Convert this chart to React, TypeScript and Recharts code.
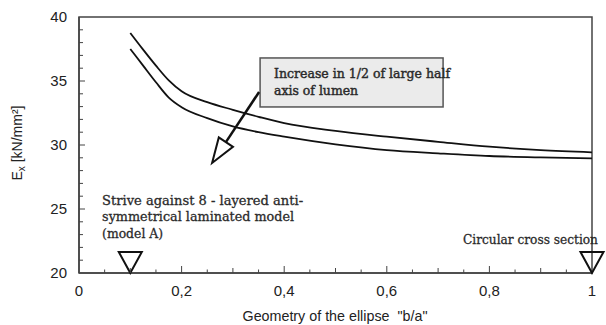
import React from 'react';
import { LineChart, Line, XAxis, YAxis, ReferenceArea, ReferenceDot } from 'recharts';

// b/a ratio of the ellipse
const ratios = [0.1, 0.125, 0.15, 0.175, 0.2, 0.25, 0.3, 0.35, 0.4, 0.5, 0.6, 0.7, 0.8, 0.9, 1.0];
// E_x [kN/mm²]
const upperEx = [38.75, 37.45, 36.2, 35.05, 34.2, 33.35, 32.75, 32.2, 31.7, 31.1, 30.65, 30.25, 29.87, 29.6, 29.43];
const lowerEx = [37.5, 36.2, 34.9, 33.7, 32.95, 32.1, 31.45, 31.0, 30.65, 30.05, 29.6, 29.35, 29.14, 29.03, 28.96];

const xTicks = [0, 0.05, 0.1, 0.15, 0.2, 0.25, 0.3, 0.35, 0.4, 0.45, 0.5, 0.55, 0.6, 0.65, 0.7, 0.75, 0.8, 0.85, 0.9, 0.95, 1];
const xTickLabels: Record<string, string> = { '0': '0', '0.2': '0,2', '0.4': '0,4', '0.6': '0,6', '0.8': '0,8', '1': '1' };
const yTicks = [20, 21, 22, 23, 24, 25, 26, 27, 28, 29, 30, 31, 32, 33, 34, 35, 36, 37, 38, 39, 40];
const yTickLabels = [20, 25, 30, 35, 40];

const noteModelA = ['Strive against 8 - layered anti-', 'symmetrical laminated model', '(model A)'];
const noteModelAWidths = [201, 192, 61];
const noteCircular = 'Circular cross section';
const noteBox = ['Increase in 1/2 of large half', 'axis of lumen'];
const noteBoxWidths = [176, 84];
const markerRatios = [0.1, 1];

const data = ratios.map((r, i) => ({ ratio: r, upper: upperEx[i], lower: lowerEx[i] }));

const AXIS = '#444';
const SANS = '"Liberation Sans", Arial, sans-serif';
const SERIF = '"DejaVu Serif", serif';

const XTick = (props: any) => {
  const { x, y, payload } = props;
  const v = payload.value;
  const key = String(Math.round(v * 100) / 100);
  const label = xTickLabels[key];
  const isTenth = Math.abs(v * 10 - Math.round(v * 10)) < 1e-6;
  const len = label !== undefined ? 7 : isTenth ? 5 : 3.5;
  return (
    <g>
      {v > 0 && v < 1 && <line x1={x} x2={x} y1={y} y2={y - len} stroke={AXIS} strokeWidth={1} />}
      {label !== undefined && (
        <text x={x} y={y + 23} textAnchor="middle" fontFamily={SANS} fontSize={15} fill="#222">
          {label}
        </text>
      )}
    </g>
  );
};

const YTick = (props: any) => {
  const { x, y, payload } = props;
  const v = payload.value;
  const isLabel = yTickLabels.includes(v);
  const len = isLabel ? 6 : 4;
  return (
    <g>
      {v > 20 && v < 40 && <line x1={x} x2={x + len} y1={y} y2={y} stroke={AXIS} strokeWidth={1} />}
      {isLabel && (
        <text x={x - 12} y={y + 5} textAnchor="end" fontFamily={SANS} fontSize={15} fill="#222">
          {v}
        </text>
      )}
    </g>
  );
};

const Marker = (props: any) => {
  const { cx, cy } = props;
  return <path d={`M${cx},${cy} L${cx - 11.5},${cy - 21} L${cx + 11.5},${cy - 21} Z`} fill="none" stroke="#111" strokeWidth={2} />;
};

const serifProps = {
  fontFamily: SERIF,
  fontSize: 13,
  fill: '#2a2a2a',
  stroke: '#2a2a2a',
  strokeWidth: 0.3,
  lengthAdjust: 'spacingAndGlyphs' as const,
};

const ModelANote = (props: any) => {
  const { cx, cy } = props;
  return (
    <g>
      {noteModelA.map((t, i) => (
        <text key={i} x={cx} y={cy + i * 16.5} textLength={noteModelAWidths[i]} {...serifProps}>{t}</text>
      ))}
    </g>
  );
};

const CircularNote = (props: any) => {
  const { cx, cy } = props;
  return (
    <text x={cx} y={cy} textLength={135} {...serifProps}>{noteCircular}</text>
  );
};

const BoxNote = (props: any) => {
  const { cx, cy } = props;
  // shaft start / arrowhead relative to box corner
  const sx = cx - 1, sy = cy + 34;
  const tx = cx - 48, ty = cy + 105;
  const dx = tx - sx, dy = ty - sy;
  const L = Math.hypot(dx, dy);
  const ux = dx / L, uy = dy / L;
  const bx = tx - 25 * ux, by = ty - 25 * uy;
  const px = -uy, py = ux;
  const c1x = bx + 8.5 * px, c1y = by + 8.5 * py;
  const c2x = bx - 8.5 * px, c2y = by - 8.5 * py;
  return (
    <g>
      <rect x={cx} y={cy} width={183} height={49} fill="#ebebeb" stroke="#555" strokeWidth={1.5} />
      {noteBox.map((t, i) => (
        <text key={i} x={cx + 14} y={cy + 20 + i * 16.7} textLength={noteBoxWidths[i]} {...serifProps} strokeWidth={0.45}>{t}</text>
      ))}
      <line x1={sx} y1={sy} x2={bx} y2={by} stroke="#111" strokeWidth={2.5} />
      <path d={`M${tx},${ty} L${c1x},${c1y} L${c2x},${c2y} Z`} fill="#fff" stroke="#111" strokeWidth={2} />
    </g>
  );
};

export default function App() {
  return (
    <div style={{ position: 'absolute', left: 0, top: 0, width: 606, height: 325, background: '#fff' }}>
      <LineChart width={606} height={325} data={data} margin={{ top: 17, right: 14, left: 0, bottom: 0 }}>
        <XAxis
          dataKey="ratio"
          type="number"
          domain={[0, 1]}
          ticks={xTicks}
          interval={0}
          height={52}
          tickSize={0}
          tickMargin={0}
          tickLine={false}
          axisLine={{ stroke: AXIS, strokeWidth: 1.5 }}
          tick={<XTick />}
          allowDataOverflow
        />
        <YAxis
          type="number"
          domain={[20, 40]}
          ticks={yTicks}
          interval={0}
          width={79}
          tickSize={0}
          tickMargin={0}
          tickLine={false}
          axisLine={{ stroke: AXIS, strokeWidth: 1.5 }}
          tick={<YTick />}
          allowDataOverflow
        />
        <ReferenceArea x1={0} x2={1} y1={20} y2={40} fill="none" stroke={AXIS} strokeWidth={1.5} />
        <Line dataKey="upper" type="monotone" stroke="#111" strokeWidth={1.8} dot={false} isAnimationActive={false} />
        <Line dataKey="lower" type="monotone" stroke="#111" strokeWidth={1.8} dot={false} isAnimationActive={false} />
        {markerRatios.map((m) => (
          <ReferenceDot key={m} x={m} y={20} r={1} shape={<Marker />} ifOverflow="visible" />
        ))}
        <ReferenceDot x={0.045} y={25.35} r={1} shape={<ModelANote />} ifOverflow="visible" />
        <ReferenceDot x={0.7485} y={22.28} r={1} shape={<CircularNote />} ifOverflow="visible" />
        <ReferenceDot x={0.353} y={36.8} r={1} shape={<BoxNote />} ifOverflow="visible" />
      </LineChart>
      <div
        style={{
          position: 'absolute', left: 18, top: 143, transform: 'translate(-50%, -50%) rotate(-90deg)',
          fontFamily: SANS, fontSize: 14, color: '#222', whiteSpace: 'nowrap',
        }}
      >
        E<sub style={{ fontSize: 10 }}>x</sub> [kN/mm²]
      </div>
      <div
        style={{
          position: 'absolute', left: 335, top: 316, transform: 'translate(-50%, -50%)',
          fontFamily: SANS, fontSize: 14.3, color: '#222', whiteSpace: 'pre',
        }}
      >
        {'Geometry of the ellipse  "b/a"'}
      </div>
    </div>
  );
}
